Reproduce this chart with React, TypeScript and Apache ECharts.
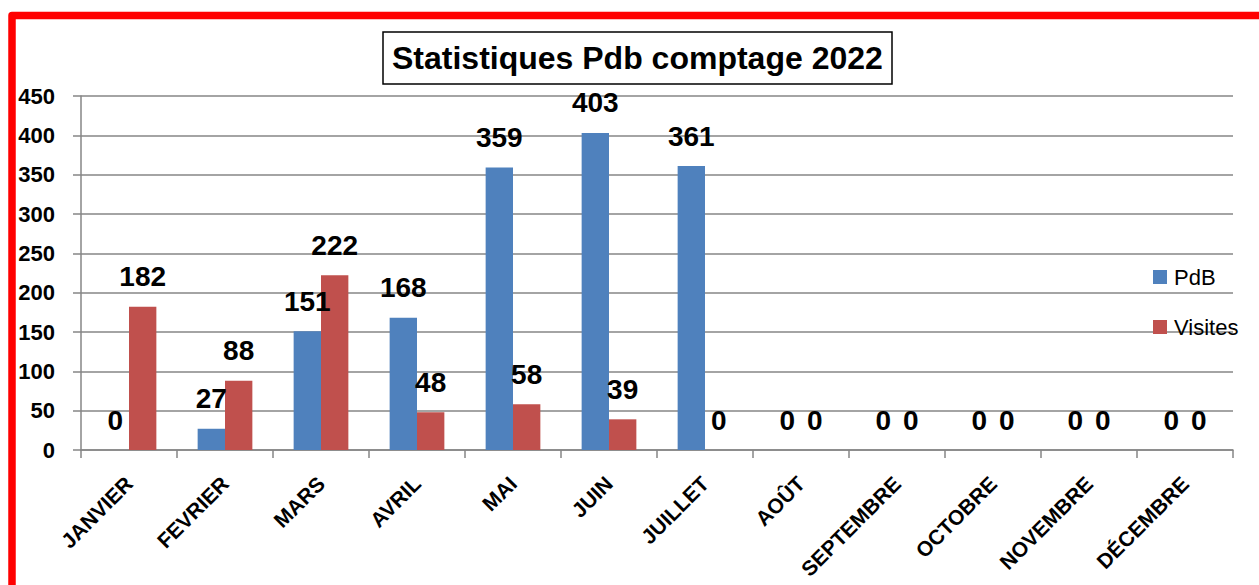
import React, { useEffect, useRef } from "react";
import * as echarts from "echarts";

const months = ["JANVIER", "FEVRIER", "MARS", "AVRIL", "MAI", "JUIN", "JUILLET", "AOÛT", "SEPTEMBRE", "OCTOBRE", "NOVEMBRE", "DÉCEMBRE"];
const pdb = [0, 27, 151, 168, 359, 403, 361, 0, 0, 0, 0, 0];
const visites = [182, 88, 222, 48, 58, 39, 0, 0, 0, 0, 0, 0];
const titleText = "Statistiques Pdb comptage 2022";
const seriesNames = ["PdB", "Visites"];

const FONT = "'Liberation Sans', Arial, sans-serif";

export default function App() {
  const ref = useRef<HTMLDivElement>(null);
  useEffect(() => {
    if (!ref.current) return;
    const chart = echarts.init(ref.current, null, { renderer: "svg" });
    const label = {
      show: true,
      position: "top",
      distance: 16,
      fontFamily: FONT,
      fontWeight: "bold",
      fontSize: 28,
      color: "#000",
    };
    chart.setOption({
      animation: false,
      backgroundColor: "#fff",
      textStyle: { fontFamily: FONT },
      title: {
        text: titleText,
        left: 383,
        top: 32,
        padding: [8, 9, 8, 9],
        borderColor: "#000",
        borderWidth: 1.5,
        textStyle: { fontFamily: FONT, fontWeight: "bold", fontSize: 32, lineHeight: 36, color: "#000" },
      },
      legend: {
        orient: "vertical",
        left: 1148,
        top: 261,
        itemWidth: 14,
        itemHeight: 14,
        itemGap: 28,
        icon: "rect",
        textStyle: { fontFamily: FONT, fontSize: 22, lineHeight: 20, color: "#000", padding: [0, 0, 0, 2] },
        data: seriesNames,
      },
      graphic: [
        {
          type: "polyline",
          shape: { points: [[12, 620], [12, 15.5], [1290, 15.5]] },
          style: { stroke: "#FF0000", lineWidth: 7.5, fill: "none", lineJoin: "round" },
          z: 100,
        },
      ],
      grid: { left: 81, right: 26, top: 96, bottom: 135, containLabel: false },
      xAxis: {
        type: "category",
        data: months,
        axisLine: { show: true, lineStyle: { color: "#868686", width: 1.5 } },
        axisTick: { show: true, length: 8, lineStyle: { color: "#868686", width: 1.5 } },
        axisLabel: {
          interval: 0,
          rotate: 45,
          margin: 30,
          fontFamily: FONT,
          fontWeight: "bold",
          fontSize: 21,
          color: "#000",
        },
      },
      yAxis: {
        type: "value",
        min: 0,
        max: 450,
        interval: 50,
        axisLine: { show: true, lineStyle: { color: "#868686", width: 1.5 } },
        axisTick: { show: true, length: 8, lineStyle: { color: "#868686", width: 1.5 } },
        splitLine: { show: true, lineStyle: { color: "#868686", width: 1.5 } },
        axisLabel: { margin: 26, fontFamily: FONT, fontWeight: "bold", fontSize: 22, color: "#000" },
      },
      series: [
        {
          name: seriesNames[0],
          type: "bar",
          data: pdb,
          itemStyle: { color: "#4F81BD" },
          barGap: "0%",
          barCategoryGap: "43%",
          label,
        },
        {
          name: seriesNames[1],
          type: "bar",
          data: visites,
          itemStyle: { color: "#C0504D" },
          barGap: "0%",
          barCategoryGap: "43%",
          label,
        },
      ],
    });
    return () => chart.dispose();
  }, []);
  return <div ref={ref} style={{ position: "fixed", left: 0, top: 0, width: 1259, height: 585 }} />;
}
